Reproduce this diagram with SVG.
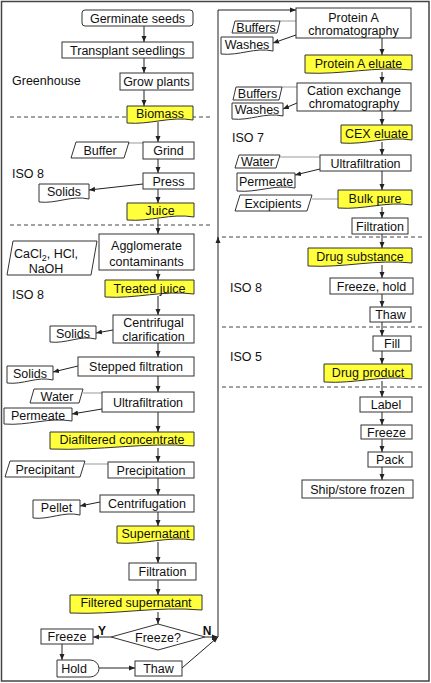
<svg xmlns="http://www.w3.org/2000/svg" width="431" height="683" viewBox="0 0 431 683">
<style>
.b{fill:#fff;stroke:#333;stroke-width:1}
.y{fill:#ffff3c;stroke:#333;stroke-width:1}
text{font-family:"Liberation Sans",Arial,sans-serif;font-size:12.5px;fill:#111;text-anchor:middle}
text.l{text-anchor:start}
text.yn{font-weight:bold;font-size:12px}
.c{stroke:#222;stroke-width:1;fill:none;marker-end:url(#ah)}
.g{stroke:#999;stroke-width:1;fill:none}
.d{stroke:#444;stroke-width:1;stroke-dasharray:4 3;fill:none}
</style>
<defs>
<marker id="ah" viewBox="0 0 6 6" refX="6" refY="3" markerWidth="6" markerHeight="6" markerUnits="userSpaceOnUse" orient="auto"><path d="M0,0.5 L6,3 L0,5.5 Z" fill="#222"/></marker>
</defs>
<rect x="0" y="0" width="431" height="683" fill="#fff"/>
<rect x="1.5" y="1.5" width="427.5" height="679.5" fill="none" stroke="#444" stroke-width="1.5"/>

<g id="zones">
<line class="d" x1="10" y1="117" x2="212" y2="117"/>
<line class="d" x1="10" y1="225" x2="212" y2="225"/>
<line class="d" x1="222" y1="237" x2="425" y2="237"/>
<line class="d" x1="222" y1="327" x2="425" y2="327"/>
<line class="d" x1="222" y1="387" x2="425" y2="387"/>
<text class="l" x="12" y="84.5">Greenhouse</text>
<text class="l" x="12" y="177.5">ISO 8</text>
<text class="l" x="12" y="298.5">ISO 8</text>
<text class="l" x="232" y="141.5">ISO 7</text>
<text class="l" x="230" y="291.5">ISO 8</text>
<text class="l" x="230" y="360.5">ISO 5</text>
</g>

<g id="connectors">
<path class="c" d="M144,26 V42"/>
<path class="c" d="M144,58 V73"/>
<path class="c" d="M144,90 V106"/>
<path class="c" d="M158,122 V142"/>
<path class="g" d="M129,143 H143"/>
<path class="c" d="M158,159 V173"/>
<path class="c" d="M143,184 L89,190"/>
<path class="c" d="M158,189 V203"/>
<path class="c" d="M158,219 V234"/>
<path class="c" d="M158,270 V280"/>
<path class="c" d="M158,296 V315"/>
<path class="c" d="M113,330 L96,333"/>
<path class="c" d="M158,343 V357"/>
<path class="c" d="M78,366 L53,372"/>
<path class="c" d="M158,376 V392"/>
<path class="g" d="M83,393 H102"/>
<path class="c" d="M102,409 L72,414"/>
<path class="c" d="M158,412 V432"/>
<path class="c" d="M158,448 V462"/>
<path class="g" d="M85,464 H108"/>
<path class="c" d="M158,478 V495"/>
<path class="c" d="M100,502 L80,506"/>
<path class="c" d="M158,512 V526"/>
<path class="c" d="M158,542 V563"/>
<path class="c" d="M158,580 V595"/>
<path class="c" d="M158,612 V624"/>
<path class="c" d="M111,637 H93"/>
<path class="c" d="M62,644 V660"/>
<path class="c" d="M99,668 H135"/>
<path class="c" d="M182,668 L218,637"/>
<path class="c" d="M205,637 H218"/>
<path class="c" d="M218,637 V237"/>
<path class="c" d="M218,240 V10 H296"/>
<path class="g" d="M280,21 H296"/>
<path class="c" d="M296,35 L273,43"/>
<path class="c" d="M382,38 V55"/>
<path class="c" d="M382,72 V83"/>
<path class="g" d="M282,87 H297"/>
<path class="c" d="M297,103 L283,109"/>
<path class="c" d="M382,111 V125"/>
<path class="c" d="M382,142 V155"/>
<path class="g" d="M280,157 H320"/>
<path class="c" d="M320,169 L295,175"/>
<path class="c" d="M382,171 V190"/>
<path class="g" d="M312,199 H338"/>
<path class="c" d="M382,207 V218"/>
<path class="c" d="M382,234 V248"/>
<path class="c" d="M382,265 V278"/>
<path class="c" d="M382,294 V307"/>
<path class="c" d="M382,322 V336"/>
<path class="c" d="M382,351 V364"/>
<path class="c" d="M382,381 V397"/>
<path class="c" d="M382,412 V425"/>
<path class="c" d="M382,439 V452"/>
<path class="c" d="M382,467 V480"/>
</g>

<g id="germinate"><rect class="b" x="82" y="10" width="111" height="16" rx="3"/><text x="137.5" y="22.5">Germinate seeds</text></g>
<g id="transplant"><rect class="b" x="62" y="42" width="131" height="16"/><text x="127.5" y="54.5">Transplant seedlings</text></g>
<g id="grow"><rect class="b" x="120" y="73" width="73" height="17"/><text x="156.5" y="86">Grow plants</text></g>
<g id="biomass"><path class="y" d="M127,106 H193 V120 C170,116 150,125 127,123 Z"/><text x="160" y="118">Biomass</text></g>
<g id="buffer"><path class="b" d="M76,142 H129 L124,158 H71 Z"/><text x="100" y="154.5">Buffer</text></g>
<g id="grind"><rect class="b" x="143" y="142" width="51" height="17"/><text x="168.5" y="155">Grind</text></g>
<g id="press"><rect class="b" x="143" y="173" width="51" height="16"/><text x="168.5" y="185.5">Press</text></g>
<g id="solids1"><path class="b" d="M39,184 H89 V199 C71.5,195 56.5,204 39,202 Z"/><text x="64" y="196">Solids</text></g>
<g id="juice"><path class="y" d="M127,203 H194 V217 C170.5,213 150.5,222 127,220 Z"/><text x="160" y="215">Juice</text></g>
<g id="chemicals"><path class="b" d="M13,241 H97 L91,275 H7 Z"/><text x="46" y="257.5">CaCl<tspan font-size="9" dy="3">2</tspan><tspan dy="-3">, HCl,</tspan></text><text x="46" y="272.5">NaOH</text></g>
<g id="agglomerate"><rect class="b" x="99" y="234" width="95" height="36"/><text x="146.5" y="249.5">Agglomerate</text><text x="146.5" y="265.5">contaminants</text></g>
<g id="treated"><path class="y" d="M105,280 H194 V294 C163,290 136,299 105,297 Z"/><text x="149.5" y="292.5">Treated juice</text></g>
<g id="centclar"><rect class="b" x="113" y="315" width="81" height="28"/><text x="153.5" y="326.5">Centrifugal</text><text x="153.5" y="340.5">clarification</text></g>
<g id="solids2"><path class="b" d="M50,326 H96 V339 C80,335 66,344 50,342 Z"/><text x="73" y="337.5">Solids</text></g>
<g id="stepped"><rect class="b" x="78" y="357" width="116" height="19"/><text x="136" y="371">Stepped filtration</text></g>
<g id="solids3"><path class="b" d="M7,366 H53 V380 C37,376 23,385 7,383 Z"/><text x="30" y="378">Solids</text></g>
<g id="uf1"><rect class="b" x="102" y="392" width="92" height="20"/><text x="148" y="406.5">Ultrafiltration</text></g>
<g id="water1"><path class="b" d="M34,389 H83 L79,403 H30 Z"/><text x="57" y="400.5">Water</text></g>
<g id="permeate1"><path class="b" d="M4,408 H72 V421 C48,417 28,426 4,424 Z"/><text x="38" y="419.5">Permeate</text></g>
<g id="diafiltered"><path class="y" d="M50,432 H194 V446 C143.6,442 100.4,451 50,449 Z"/><text x="122" y="444">Diafiltered concentrate</text></g>
<g id="precipitant"><path class="b" d="M10,461 H85 L80,477 H5 Z"/><text x="45" y="473.5">Precipitant</text></g>
<g id="precipitation"><rect class="b" x="108" y="462" width="86" height="16"/><text x="151" y="474.5">Precipitation</text></g>
<g id="centrifugation"><rect class="b" x="100" y="495" width="94" height="17"/><text x="147" y="507.5">Centrifugation</text></g>
<g id="pellet"><path class="b" d="M33,500 H80 V515 C63.5,511 49.5,520 33,518 Z"/><text x="56.5" y="512">Pellet</text></g>
<g id="supernatant"><path class="y" d="M117,526 H194 V540 C167,536 144,545 117,543 Z"/><text x="155.5" y="538">Supernatant</text></g>
<g id="filtration1"><rect class="b" x="129" y="563" width="67" height="17"/><text x="162.5" y="576">Filtration</text></g>
<g id="filteredsup"><path class="y" d="M70,595 H202 V610 C155.8,606 116.2,615 70,613 Z"/><text x="136" y="607">Filtered supernatant</text></g>
<g id="decision"><path class="b" d="M111,637 L158,624 L205,637 L158,650 Z"/><text x="158" y="641.5">Freeze?</text><text class="yn" x="102" y="634.5">Y</text><text class="yn" x="207" y="634.5">N</text></g>
<g id="freeze1"><rect class="b" x="41" y="629" width="52" height="15"/><text x="67" y="641">Freeze</text></g>
<g id="hold"><path class="b" d="M57,660 H90 A9,8.5 0 0 1 90,677 H57 Z"/><text x="74" y="673">Hold</text></g>
<g id="thaw1"><rect class="b" x="135" y="661" width="47" height="15"/><text x="158.5" y="673">Thaw</text></g>

<g id="proteinA"><rect class="b" x="296" y="8" width="115" height="30"/><text x="353.5" y="21.5">Protein A</text><text x="353.5" y="34.5">chromatography</text></g>
<g id="buffers1"><path class="b" d="M235,21 H280 L277,33 H232 Z"/><text x="256" y="31.5">Buffers</text></g>
<g id="washes1"><path class="b" d="M221,37 H273 V51 C254.8,47 239.2,56 221,54 Z"/><text x="247" y="49">Washes</text></g>
<g id="proteinAeluate"><path class="y" d="M305,55 H412 V70 C374.5,66 342.5,75 305,73 Z"/><text x="358.5" y="67.5">Protein A eluate</text></g>
<g id="cex"><rect class="b" x="297" y="83" width="114" height="28"/><text x="354" y="95">Cation exchange</text><text x="354" y="107.5">chromatography</text></g>
<g id="buffers2"><path class="b" d="M236,87 H282 L279,100 H233 Z"/><text x="257.5" y="98">Buffers</text></g>
<g id="washes2"><path class="b" d="M232,103 H283 V116 C265,112 250,121 232,119 Z"/><text x="257" y="114">Washes</text></g>
<g id="cexeluate"><path class="y" d="M341,125 H412 V140 C387,136 366,145 341,143 Z"/><text x="376.5" y="137.5">CEX eluate</text></g>
<g id="uf2"><rect class="b" x="320" y="155" width="91" height="16"/><text x="365.5" y="167.5">Ultrafiltration</text></g>
<g id="water2"><path class="b" d="M239,155 H280 L276,168 H235 Z"/><text x="257.5" y="166">Water</text></g>
<g id="permeate2"><path class="b" d="M237,173 H295 V188 C274.7,184 257.3,193 237,191 Z"/><text x="266" y="185.5">Permeate</text></g>
<g id="bulkpure"><path class="y" d="M338,190 H412 V205 C386,201 364,210 338,208 Z"/><text x="375" y="202.5">Bulk pure</text></g>
<g id="excipients"><path class="b" d="M240,195 H312 L307,211 H235 Z"/><text x="273" y="207.5">Excipients</text></g>
<g id="filtration2"><rect class="b" x="352" y="218" width="56" height="16"/><text x="380" y="230.5">Filtration</text></g>
<g id="drugsubstance"><path class="y" d="M308,248 H412 V263 C375.6,259 344.4,268 308,266 Z"/><text x="360" y="260.5">Drug substance</text></g>
<g id="freezehold"><rect class="b" x="330" y="278" width="83" height="16"/><text x="371.5" y="290.5">Freeze, hold</text></g>
<g id="thaw2"><rect class="b" x="370" y="307" width="41" height="15"/><text x="390.5" y="319">Thaw</text></g>
<g id="fill"><rect class="b" x="373" y="336" width="38" height="15"/><text x="392" y="348">Fill</text></g>
<g id="drugproduct"><path class="y" d="M324,364 H412 V379 C381,375 355,384 324,382 Z"/><text x="368" y="376.5">Drug product</text></g>
<g id="label"><rect class="b" x="360" y="397" width="52" height="15"/><text x="386" y="409">Label</text></g>
<g id="freeze2"><rect class="b" x="361" y="425" width="51" height="14"/><text x="386.5" y="436.5">Freeze</text></g>
<g id="pack"><rect class="b" x="368" y="452" width="44" height="15"/><text x="390" y="464">Pack</text></g>
<g id="ship"><rect class="b" x="302" y="480" width="111" height="18"/><text x="357.5" y="493.5">Ship/store frozen</text></g>
</svg>
